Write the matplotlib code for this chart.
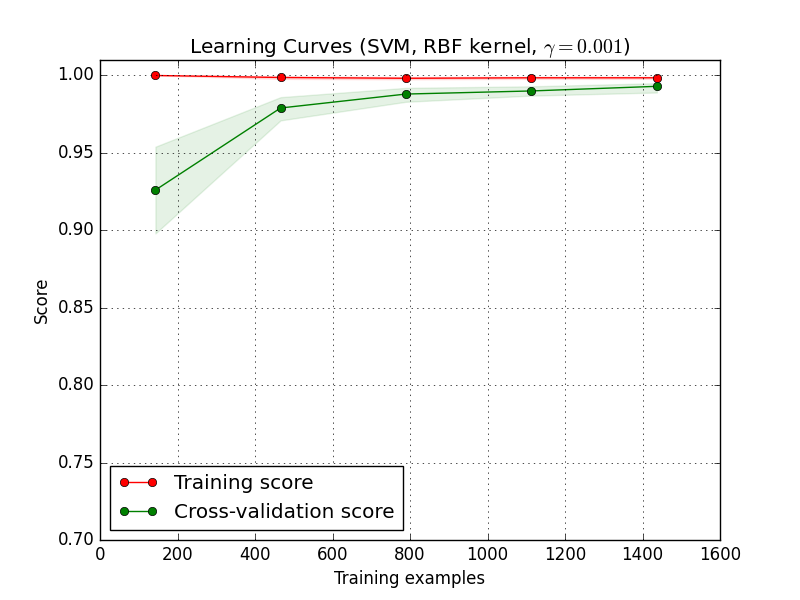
import numpy as np
import matplotlib
matplotlib.use("Agg")
import matplotlib.pyplot as plt

plt.style.use("classic")

# ============================================================
# DATA
# ============================================================

train_sizes = [143, 466, 789, 1112, 1437]

train_scores_mean = [1.000, 0.9987, 0.9982, 0.9985, 0.9985]
train_scores_lower = [1.000, 0.9978, 0.9975, 0.9978, 0.9978]
train_scores_upper = [1.000, 0.9995, 0.9990, 0.9992, 0.9992]

test_scores_mean = [0.926, 0.979, 0.988, 0.990, 0.993]
test_scores_lower = [0.898, 0.971, 0.983, 0.987, 0.989]
test_scores_upper = [0.954, 0.986, 0.992, 0.993, 0.995]

# ============================================================
# PLOT
# ============================================================

plt.figure(figsize=(8, 6), dpi=100)
plt.title(r"Learning Curves (SVM, RBF kernel, $\gamma=0.001$)")
plt.xlabel("Training examples")
plt.ylabel("Score")
plt.ylim(0.7, 1.01)
plt.xlim(0, 1600)
plt.grid()

plt.fill_between(train_sizes, train_scores_lower, train_scores_upper,
                 alpha=0.1, color="r")
plt.fill_between(train_sizes, test_scores_lower, test_scores_upper,
                 alpha=0.1, color="g")
plt.plot(train_sizes, train_scores_mean, "o-", color="r",
         label="Training score")
plt.plot(train_sizes, test_scores_mean, "o-", color="g",
         label="Cross-validation score")

plt.legend(loc="best")
plt.savefig("out.png", dpi=100)
